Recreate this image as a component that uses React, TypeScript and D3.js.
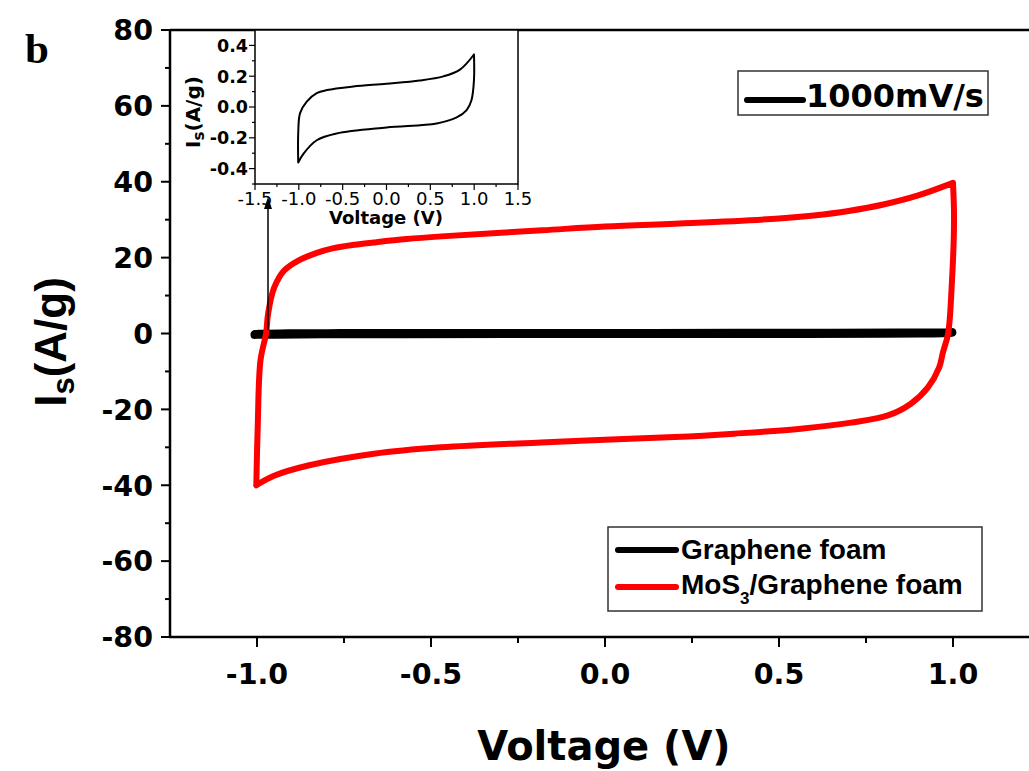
import React from "react";
import * as d3 from "d3";

// ---- data ----
// MoS3/Graphene foam CV loop (V, A/g): anodic sweep then cathodic sweep
const mosV = [-1.002, -0.998, -0.99, -0.974, -0.968, -0.951, -0.922, -0.88, -0.83, -0.78, -0.72, -0.664, -0.57, -0.47, -0.18, 0.0, 0.25, 0.5, 0.6, 0.7, 0.8, 0.9, 1.0,
  1.003, 0.996, 0.986, 0.971, 0.96, 0.928, 0.879, 0.813, 0.707, 0.563, 0.371, 0.2, 0.0, -0.184, -0.471, -0.664, -0.853, -0.951, -1.002];
const mosI = [-40.0, -24.8, -7.1, 0.0, 5.3, 12.0, 16.6, 19.3, 21.2, 22.5, 23.4, 24.0, 24.9, 25.6, 27.2, 28.2, 29.1, 30.3, 31.1, 32.3, 34.0, 36.4, 39.7,
  29.8, 12.0, 0.0, -5.0, -9.0, -14.2, -18.5, -21.6, -23.5, -25.1, -26.4, -27.3, -28.0, -28.7, -30.0, -31.7, -34.8, -37.5, -40.0];
const mosCorner = 22; // index of the upper-right vertex

// Graphene foam CV loop (V, A/g), shown in the inset
const gfV = [-1.007, -1.007, -0.986, -0.91, -0.796, -0.68, -0.38, 0.0, 0.38, 0.648, 0.838, 0.998,
  0.998, 0.97, 0.914, 0.8, 0.572, 0.0, -0.57, -0.796, -0.948, -1.007];
const gfI = [-0.36, -0.17, -0.04, 0.035, 0.09, 0.11, 0.133, 0.151, 0.172, 0.199, 0.243, 0.341,
  0.177, 0.046, -0.02, -0.068, -0.107, -0.133, -0.172, -0.216, -0.304, -0.36];
const gfCorner = 11;

const mainXTicks = [-1.0, -0.5, 0.0, 0.5, 1.0];
const mainXMinor = [-0.75, -0.25, 0.25, 0.75];
const mainYTicks = [-80, -60, -40, -20, 0, 20, 40, 60, 80];
const mainYMinor = [-70, -50, -30, -10, 10, 30, 50, 70];
const insetXTicks = [-1.5, -1.0, -0.5, 0.0, 0.5, 1.0, 1.5];
const insetXMinor = [-1.25, -0.75, -0.25, 0.25, 0.75, 1.25];
const insetYTicks = [-0.4, -0.2, 0.0, 0.2, 0.4];
const insetYMinor = [-0.5, -0.3, -0.1, 0.1, 0.3, 0.5];
const seriesNames = ["Graphene foam", "MoS", "3", "/Graphene foam"];
const scanRate = "1000mV/s";
const panelLabel = "b";

const fmt1 = (v: number) => d3.format(".1f")(v).replace("\u2212", "-");
const fmt0 = (v: number) => d3.format("d")(v).replace("\u2212", "-");

export default function App() {
  const W = 1029, H = 771;
  const x = d3.scaleLinear().domain([-1.25, 1.25]).range([170, 1040]);
  const y = d3.scaleLinear().domain([-80, 80]).range([637, 30]);
  const xi = d3.scaleLinear().domain([-1.5, 1.5]).range([255, 518]);
  const yi = d3.scaleLinear().domain([-0.5, 0.5]).range([184, 30]);

  const mosPts: [number, number][] = mosV.map((v, i) => [v, mosI[i]]);
  const gfPts: [number, number][] = gfV.map((v, i) => [v, gfI[i]]);

  const lineMain = d3.line<[number, number]>().x(d => x(d[0])).y(d => y(d[1])).curve(d3.curveCatmullRom.alpha(0.5));
  const lineInset = d3.line<[number, number]>().x(d => xi(d[0])).y(d => yi(d[1])).curve(d3.curveCatmullRom.alpha(0.5));

  const split = (pts: [number, number][], k: number) => [pts.slice(0, k + 1), pts.slice(k)];
  const [mosA, mosB] = split(mosPts, mosCorner);
  const [gfA, gfB] = split(gfPts, gfCorner);

  const bold = "'DejaVu Sans', sans-serif";
  const arial = "'Liberation Sans', Arial, sans-serif";

  return (
    <svg width={W} height={H} style={{ position: "absolute", left: 0, top: 0, background: "#fff" }}>
      <rect x={0} y={0} width={W} height={H} fill="#fff" />
      {/* panel label */}
      <text x={25} y={63} fontFamily="'Liberation Serif', 'Times New Roman', serif" fontWeight="bold" fontSize={43}>{panelLabel}</text>

      {/* main axes */}
      <line x1={x(-1.25)} x2={W} y1={y(80)} y2={y(80)} stroke="#000" strokeWidth={2.5} />
      <line x1={x(-1.25)} x2={x(-1.25)} y1={y(80)} y2={y(-80)} stroke="#000" strokeWidth={2.5} />
      <line x1={x(-1.25) - 1} x2={W} y1={y(-80)} y2={y(-80)} stroke="#000" strokeWidth={2.5} />
      {mainYTicks.map(t => (
        <g key={"yt" + t}>
          <line x1={x(-1.25) - 9} x2={x(-1.25)} y1={y(t)} y2={y(t)} stroke="#000" strokeWidth={2} />
          <text x={153} y={y(t)} dy="0.36em" textAnchor="end" fontFamily={bold} fontWeight="bold" fontSize={28.5}>{fmt0(t)}</text>
        </g>
      ))}
      {mainYMinor.map(t => (
        <line key={"ym" + t} x1={x(-1.25) - 5} x2={x(-1.25)} y1={y(t)} y2={y(t)} stroke="#000" strokeWidth={2} />
      ))}
      {mainXTicks.map(t => (
        <g key={"xt" + t}>
          <line x1={x(t)} x2={x(t)} y1={y(-80)} y2={y(-80) + 10} stroke="#000" strokeWidth={2} />
          <text x={x(t)} y={684} textAnchor="middle" fontFamily={bold} fontWeight="bold" fontSize={28.5}>{fmt1(t)}</text>
        </g>
      ))}
      {mainXMinor.map(t => (
        <line key={"xm" + t} x1={x(t)} x2={x(t)} y1={y(-80)} y2={y(-80) + 6} stroke="#000" strokeWidth={2} />
      ))}
      <text x={604} y={760} textAnchor="middle" fontFamily={bold} fontWeight="bold" fontSize={40}>Voltage (V)</text>
      <text transform="translate(66,342) rotate(-90)" textAnchor="middle" fontFamily={arial} fontWeight="bold" fontSize={44}>
        I<tspan fontSize={31} dy={8}>s</tspan><tspan dy={-8}>(A/g)</tspan>
      </text>

      {/* curves */}
      <path d={(lineMain(gfA) || "") + (lineMain(gfB) || "")} fill="none" stroke="#000" strokeWidth={8} strokeLinecap="round" strokeLinejoin="round" />
      <path d={(lineMain(mosA) || "") + (lineMain(mosB) || "")} fill="none" stroke="#ff0000" strokeWidth={6} strokeLinecap="round" strokeLinejoin="round" />

      {/* arrow */}
      <line x1={268} x2={268} y1={330} y2={206} stroke="#000" strokeWidth={1.5} />
      <path d="M268,197 L264,209 L272,209 Z" fill="#000" />

      {/* inset */}
      <rect x={255} y={30} width={263} height={154} fill="#fff" stroke="#000" strokeWidth={1.5} />
      {insetYTicks.map(t => (
        <g key={"iyt" + t}>
          <line x1={249} x2={255} y1={yi(t)} y2={yi(t)} stroke="#000" strokeWidth={1.2} />
          <text x={248} y={yi(t)} dy="0.36em" textAnchor="end" fontFamily={bold} fontWeight="bold" fontSize={17.5}>{fmt1(t)}</text>
        </g>
      ))}
      {insetYMinor.map(t => (
        <line key={"iym" + t} x1={252} x2={255} y1={yi(t)} y2={yi(t)} stroke="#000" strokeWidth={1.2} />
      ))}
      {insetXTicks.map(t => (
        <g key={"ixt" + t}>
          <line x1={xi(t)} x2={xi(t)} y1={184} y2={190} stroke="#000" strokeWidth={1.2} />
          <text x={xi(t)} y={205} textAnchor="middle" fontFamily={bold} fontSize={18}>{fmt1(t)}</text>
        </g>
      ))}
      {insetXMinor.map(t => (
        <line key={"ixm" + t} x1={xi(t)} x2={xi(t)} y1={184} y2={187} stroke="#000" strokeWidth={1.2} />
      ))}
      <text x={386} y={224} textAnchor="middle" fontFamily={bold} fontWeight="bold" fontSize={18}>Voltage (V)</text>
      <text transform="translate(200,112) rotate(-90)" textAnchor="middle" fontFamily={bold} fontWeight="bold" fontSize={20}>
        I<tspan fontSize={15} dy={4}>s</tspan><tspan dy={-4}>(A/g)</tspan>
      </text>
      <path d={(lineInset(gfA) || "") + (lineInset(gfB) || "")} fill="none" stroke="#000" strokeWidth={2} strokeLinecap="round" />

      {/* legend 1 */}
      <rect x={738} y={71} width={250} height={44} fill="#fff" stroke="#333" strokeWidth={1.5} />
      <line x1={747} x2={803} y1={100} y2={100} stroke="#000" strokeWidth={6} strokeLinecap="round" />
      <text x={806} y={107} fontFamily={bold} fontWeight="bold" fontSize={32}>{scanRate}</text>

      {/* legend 2 */}
      <rect x={608} y={527} width={374} height={84} fill="#fff" stroke="#333" strokeWidth={1.5} />
      <line x1={618} x2={676} y1={550} y2={550} stroke="#000" strokeWidth={6} strokeLinecap="round" />
      <line x1={618} x2={676} y1={587} y2={587} stroke="#ff0000" strokeWidth={6} strokeLinecap="round" />
      <text x={681} y={559} fontFamily={arial} fontWeight="bold" fontSize={28}>{seriesNames[0]}</text>
      <text x={681} y={594} fontFamily={arial} fontWeight="bold" fontSize={28}>
        {seriesNames[1]}<tspan fontSize={17} dy={10}>{seriesNames[2]}</tspan><tspan dy={-10}>{seriesNames[3]}</tspan>
      </text>
    </svg>
  );
}
